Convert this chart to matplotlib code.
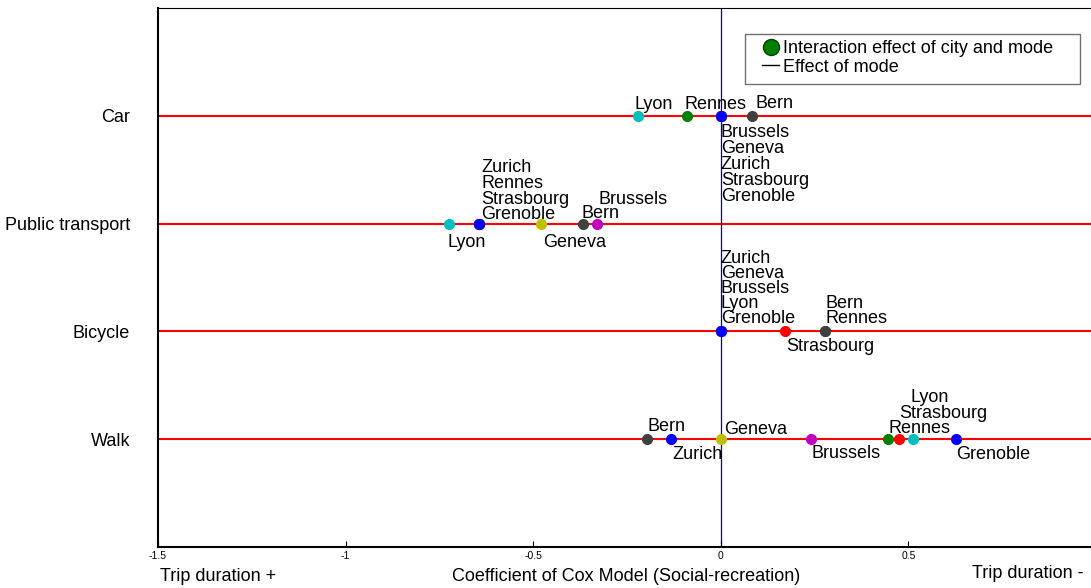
#!/usr/bin/env python3
import matplotlib
matplotlib.use("Agg")
from matplotlib import pyplot as plt
from matplotlib.lines import Line2D
from matplotlib.patches import Rectangle

plt.rcParams['font.family'] = ['Liberation Sans', 'DejaVu Sans']

# rows of the chart, top to bottom
modes = ["Car", "Public transport", "Bicycle", "Walk"]
mode_y = [4, 3, 2, 1]

# drawing order matters: later cities sit on top of earlier ones
cities = ["Grenoble", "Rennes", "Strasbourg", "Lyon", "Brussels", "Geneva", "Bern", "Zurich"]

# coefficient of each city, one list per mode (same order as cities)
car_coef = [0.0, -0.091, 0.0, -0.221, 0.0, 0.0, 0.082, 0.0]
pt_coef = [-0.644, -0.644, -0.644, -0.724, -0.329, -0.478, -0.368, -0.644]
bicycle_coef = [0.0, 0.279, 0.171, 0.0, 0.0, 0.0, 0.279, 0.0]
walk_coef = [0.626, 0.446, 0.475, 0.511, 0.240, 0.0, -0.196, -0.134]

xticks = [-1.5, -1, -0.5, 0, 0.5]
xtick_labels = ["-1.5", "-1", "-0.5", "0", "0.5"]

# old matlab colour order, cycles back to blue for the 8th city
city_colors = ["#0000ff", "#008000", "#ff0000", "#00bfbf",
               "#bf00bf", "#bfbf00", "#404040", "#0000ff"]

# label offsets in pixels (dx, dy), dy > 0 means above the point
label_offsets = {
    "Car": {"Lyon": (-3, 7), "Rennes": (-2, 7), "Bern": (4, 8),
            "Brussels": (0, -21), "Geneva": (0, -37), "Zurich": (0, -53),
            "Strasbourg": (0, -69), "Grenoble": (0, -85)},
    "Public transport": {"Lyon": (-2, -23), "Grenoble": (2, 5), "Strasbourg": (2, 20),
                         "Rennes": (2, 36), "Zurich": (2, 52), "Geneva": (2, -23),
                         "Bern": (-1, 6), "Brussels": (1, 20)},
    "Bicycle": {"Grenoble": (0, 8), "Lyon": (0, 23), "Brussels": (0, 38),
                "Geneva": (0, 53), "Zurich": (0, 68), "Strasbourg": (1, -20),
                "Rennes": (0, 8), "Bern": (0, 23)},
    "Walk": {"Bern": (0, 8), "Zurich": (2, -20), "Geneva": (3, 5),
             "Brussels": (1, -19), "Rennes": (0, 6), "Strasbourg": (0, 21),
             "Lyon": (-2, 37), "Grenoble": (0, -20)},
}

FS = 13


def main():
    coefs = [car_coef, pt_coef, bicycle_coef, walk_coef]
    W, H = 1091, 588
    fig = plt.figure(figsize=(W / 100, H / 100), dpi=100)
    # axes runs a little past the right border, like the original
    ax = fig.add_axes([158 / W, 41 / H, (1096 - 158) / W, (547 - 8) / H])
    ax.set_xlim(-1.5, 1)
    ax.set_ylim(0, 5)

    # effect of mode lines and the zero line
    for y in mode_y:
        ax.axhline(y, color="#ff0000", lw=1.5, zorder=1)
    ax.axvline(0, color="#0000c0", lw=0.9, zorder=1)

    for mode, y, vals in zip(modes, mode_y, coefs):
        for city, col, v in zip(cities, city_colors, vals):
            ax.plot(v, y, "o", color=col, markersize=7, zorder=3)
            dx, dy = label_offsets[mode][city]
            ax.annotate(city, (v, y), xytext=(dx, dy), textcoords="offset pixels",
                        ha="left", va="baseline", fontsize=FS, zorder=4)

    ax.set_xticks(xticks)
    ax.set_xticklabels(xtick_labels, fontsize=7.5)
    ax.tick_params(axis="x", direction="in", length=4, pad=3)
    ax.set_yticks(mode_y)
    ax.set_yticklabels(modes, fontsize=FS)
    ax.tick_params(axis="y", length=0, pad=20)

    ax.spines["right"].set_visible(False)
    ax.spines["left"].set_linewidth(1.5)
    ax.spines["bottom"].set_linewidth(1.5)
    ax.spines["top"].set_linewidth(0.8)

    # legend box drawn by hand, the legend itself has no frame
    ax.add_artist(Rectangle((745 / W, 1 - 84 / H), (1080 - 745) / W, 50 / H,
                            transform=fig.transFigure, facecolor="white",
                            edgecolor="#707070", lw=1, zorder=5, clip_on=False))
    handles = [Line2D([], [], ls="none", marker="o", color="#008000",
                      markeredgecolor="#004000", markersize=11.5),
               Line2D([], [], color="black", lw=1)]
    leg = ax.legend(handles, ["Interaction effect of city and mode", "Effect of mode"],
                    loc="upper left", bbox_to_anchor=(762 / W, 1 - 40 / H),
                    bbox_transform=fig.transFigure, fontsize=FS, frameon=False,
                    handlelength=0.95, handletextpad=0.2, labelspacing=0.1,
                    borderpad=0, borderaxespad=0)
    leg.set_zorder(6)

    # texts under the axis
    fig.text(160 / W, 1 - 581 / H, "Trip duration +", fontsize=FS, va="baseline")
    fig.text(626 / W, 1 - 581 / H, "Coefficient of Cox Model (Social-recreation)",
             fontsize=FS, va="baseline", ha="center")
    fig.text(972 / W, 1 - 578 / H, "Trip duration -", fontsize=FS, va="baseline")

    fig.savefig("out.png", dpi=100)


if __name__ == "__main__":
    main()
